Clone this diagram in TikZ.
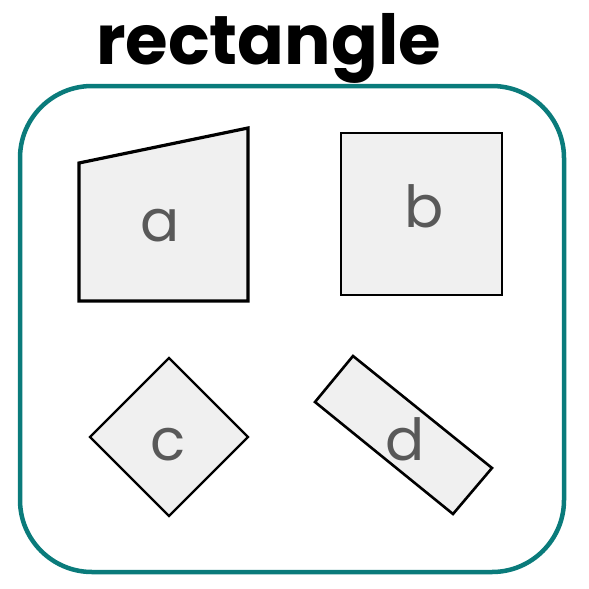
\documentclass[tikz,border=0pt]{standalone}
\usepackage{fontspec}
\setmainfont{Poppins}
\newfontfamily\titlefont{Poppins}[UprightFont=* Bold]
\definecolor{tealframe}{HTML}{0A7B7B}
\definecolor{shapefill}{HTML}{F0F0F0}
\definecolor{labelgray}{HTML}{595959}
\begin{document}
\begin{tikzpicture}[x=1pt,y=-1pt,
  shapebox/.style={draw=black,fill=shapefill,line join=miter},
  lbl/.style={text=labelgray,font=\fontsize{58}{58}\selectfont,inner sep=0pt,anchor=base}]
\useasboundingbox (0,0) rectangle (589,589);
\draw[tealframe,line width=4.5pt,rounded corners=72pt] (20,86) rectangle (564,572);
\node[font=\titlefont\fontsize{69}{69}\selectfont,anchor=base,inner sep=0pt] (title) at (268.5,64) {rectangle};
\draw[shapebox,line width=3.2pt] (79,163) -- (248,128) -- (248,301) -- (79,301) -- cycle;
\draw[shapebox,line width=2.8pt] (341,133) rectangle (502,295);
\draw[shapebox,line width=2.3pt] (169,358) -- (248,437) -- (169,516) -- (90,437) -- cycle;
\draw[shapebox,line width=2.6pt] (353,356) -- (492,468) -- (453,514) -- (315,402) -- cycle;
\node[lbl] (la) at (160,241) {a};
\node[lbl] (lb) at (424,227) {b};
\node[lbl] (lc) at (168,460) {c};
\node[lbl] (ld) at (405,460) {d};
\end{tikzpicture}
\end{document}
